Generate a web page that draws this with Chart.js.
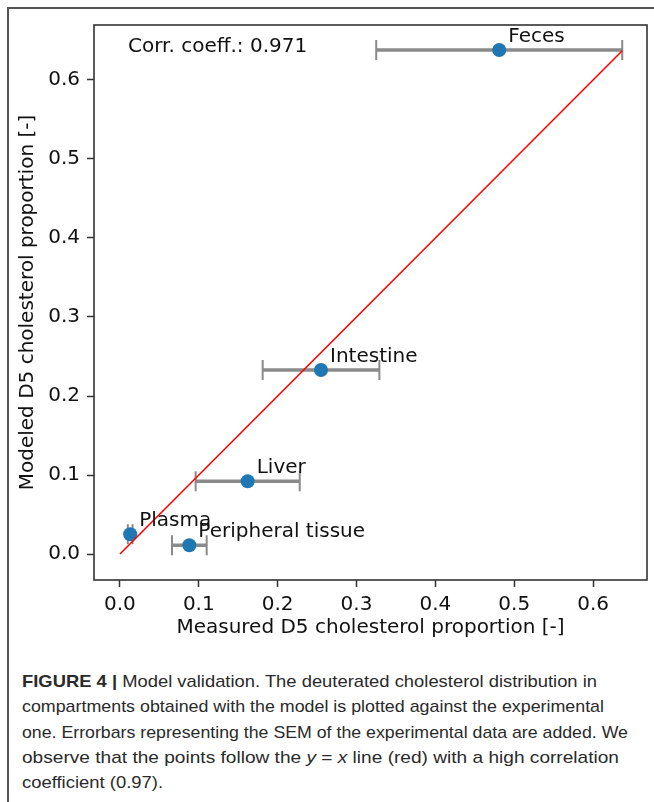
<!DOCTYPE html>
<html><head><meta charset="utf-8">
<script src="https://cdn.jsdelivr.net/npm/chart.js@4.4.0/dist/chart.umd.min.js"></script>
<style>
html,body{margin:0;padding:0;background:#fff;width:654px;height:802px;overflow:hidden;}
#frame{position:absolute;left:7px;top:7px;width:700px;height:900px;border-left:2px solid #555;border-top:2px solid #555;}
#wrap{position:absolute;left:0;top:0;width:654px;height:650px;}
#caption{position:absolute;left:22px;top:669px;font-family:"Liberation Sans",Arial,sans-serif;font-size:17px;line-height:25.3px;color:#2a2a2a;white-space:nowrap;}
#caption span.l{display:inline-block;transform-origin:0 50%;}
#caption b{font-weight:bold;}
</style></head><body>
<div id="frame"></div>
<div id="wrap"><canvas id="c"></canvas></div>
<div id="caption"><span class="l" data-w="575"><b>FIGURE 4 |</b> Model validation. The deuterated cholesterol distribution in</span><br><span class="l" data-w="582">compartments obtained with the model is plotted against the experimental</span><br><span class="l" data-w="606">one. Errorbars representing the SEM of the experimental data are added. We</span><br><span class="l" data-w="597">observe that the points follow the <i>y</i> = <i>x</i> line (red) with a high correlation</span><br><span class="l" data-w="141">coefficient (0.97).</span></div>
<script>
// ---- data ----
const compartments = ["Feces", "Intestine", "Liver", "Plasma", "Peripheral tissue"];
const measured     = [0.481, 0.255, 0.162, 0.013, 0.088];
const measuredSEM  = [0.156, 0.074, 0.066, 0.003, 0.022];
const modeled      = [0.638, 0.233, 0.092, 0.025, 0.011];
const identityX    = [0, 0.637];
const identityY    = [0, 0.637];
const xTicks = [0.0, 0.1, 0.2, 0.3, 0.4, 0.5, 0.6];
const yTicks = [0.0, 0.1, 0.2, 0.3, 0.4, 0.5, 0.6];
const xLimits = [-0.0329, 0.6684];
const yLimits = [-0.0329, 0.6696];
const corrText = "Corr. coeff.: 0.971";
const xTitle = "Measured D5 cholesterol proportion [-]";
const yTitle = "Modeled D5 cholesterol proportion [-]";

const FONT = "DejaVu Sans";

// fit each caption line horizontally to the reference line width
document.querySelectorAll('#caption span.l').forEach(el => {
  const w = el.getBoundingClientRect().width;
  const target = parseFloat(el.dataset.w);
  if (w > 0) el.style.transform = 'scaleX(' + (target / w) + ')';
});

const errorBarPlugin = {
  id: 'errorBars',
  beforeDatasetsDraw(chart) {
    const {ctx, scales: {x, y}} = chart;
    ctx.save();
    ctx.strokeStyle = '#8a8a8a';
    measured.forEach((m, i) => {
      const x0 = x.getPixelForValue(m - measuredSEM[i]);
      const x1 = x.getPixelForValue(m + measuredSEM[i]);
      const py = y.getPixelForValue(modeled[i]);
      ctx.lineWidth = 3.5;
      ctx.beginPath(); ctx.moveTo(x0, py); ctx.lineTo(x1, py); ctx.stroke();
      ctx.lineWidth = 2;
      ctx.beginPath();
      ctx.moveTo(x0, py - 10); ctx.lineTo(x0, py + 10);
      ctx.moveTo(x1, py - 10); ctx.lineTo(x1, py + 10);
      ctx.stroke();
    });
    ctx.restore();
  },
  afterDatasetsDraw(chart) {
    const {ctx, scales: {x, y}, chartArea} = chart;
    ctx.save();
    ctx.fillStyle = '#111';
    ctx.font = '20px "' + FONT + '"';
    ctx.textAlign = 'left';
    ctx.textBaseline = 'alphabetic';
    compartments.forEach((name, i) => {
      ctx.fillText(name, x.getPixelForValue(measured[i]) + 9, y.getPixelForValue(modeled[i]) - 8);
    });
    ctx.fillText(corrText, chartArea.left + 34, chartArea.top + 27);
    ctx.strokeStyle = '#333';
    ctx.lineWidth = 1.6;
    ctx.strokeRect(chartArea.left, chartArea.top, chartArea.right - chartArea.left, chartArea.bottom - chartArea.top);
    ctx.restore();
  }
};

const axisCommon = {
  type: 'linear',
  border: {display: false},
  grid: {display: true, drawOnChartArea: false, drawTicks: true, tickLength: 7, tickColor: '#333', tickWidth: 1.5, color: '#333'},
  ticks: {color: '#111', font: {family: FONT, size: 20}, callback: v => v.toFixed(1)}
};

new Chart(document.getElementById('c'), {
  type: 'scatter',
  data: {
    datasets: [
      {
        type: 'line',
        label: 'y = x',
        data: identityX.map((v, i) => ({x: v, y: identityY[i]})),
        borderColor: '#ff0000',
        borderWidth: 1.6,
        pointRadius: 0,
        fill: false,
        order: 0
      },
      {
        label: 'compartments',
        data: measured.map((v, i) => ({x: v, y: modeled[i]})),
        backgroundColor: '#1f77b4',
        borderColor: '#1f77b4',
        borderWidth: 0,
        pointRadius: 7,
        order: 1
      }
    ]
  },
  options: {
    responsive: true,
    maintainAspectRatio: false,
    animation: false,
    devicePixelRatio: 1,
    layout: {padding: {top: 25, right: 6, left: 0, bottom: 0}},
    plugins: {legend: {display: false}, tooltip: {enabled: false}},
    scales: {
      x: {
        ...axisCommon,
        min: xLimits[0], max: xLimits[1],
        ticks: {...axisCommon.ticks, padding: 6, maxRotation: 0},
        afterBuildTicks: s => { s.ticks = xTicks.map(v => ({value: v})); },
        afterFit: s => { s.height = 70; },
        title: {display: true, text: xTitle, color: '#111', font: {family: FONT, size: 20}, padding: {top: 0, bottom: 10}}
      },
      y: {
        ...axisCommon,
        min: yLimits[0], max: yLimits[1],
        ticks: {...axisCommon.ticks, padding: 7},
        afterBuildTicks: s => { s.ticks = yTicks.map(v => ({value: v})); },
        afterFit: s => { s.width = 94; },
        title: {display: true, text: yTitle, color: '#111', font: {family: FONT, size: 20}, padding: {top: 16, bottom: 0}}
      }
    }
  },
  plugins: [errorBarPlugin]
});
</script>
</body></html>
